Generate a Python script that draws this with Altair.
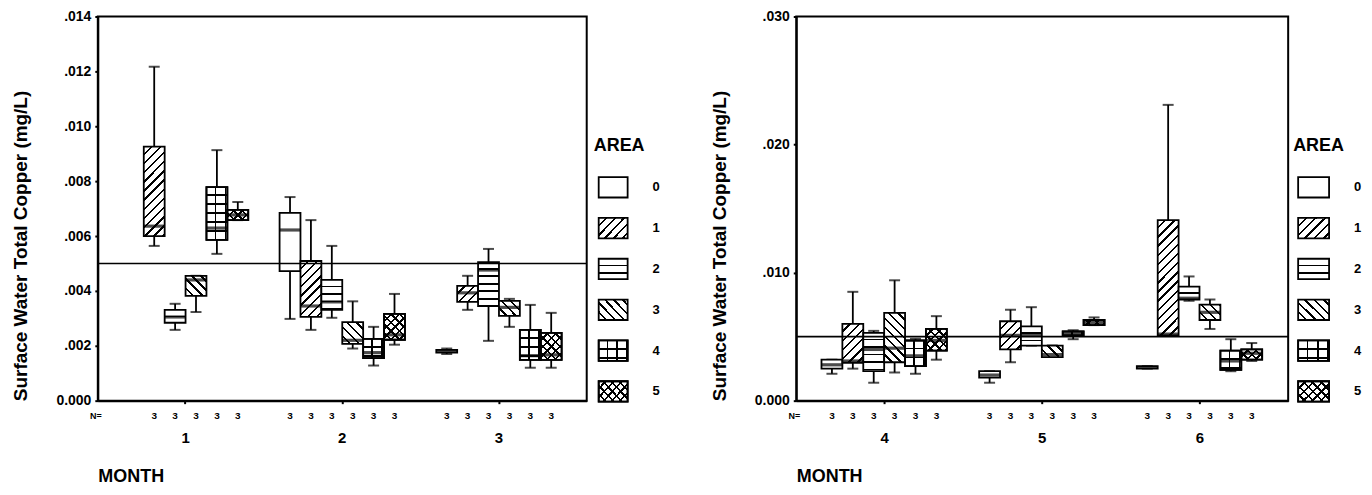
import math
import altair as alt
import pandas as pd

# ---------------- data ----------------
MONTH = [1, 1, 1, 1, 1,
         2, 2, 2, 2, 2, 2,
         3, 3, 3, 3, 3, 3,
         4, 4, 4, 4, 4, 4,
         5, 5, 5, 5, 5, 5,
         6, 6, 6, 6, 6, 6]
AREA = [1, 2, 3, 4, 5,
        0, 1, 2, 3, 4, 5,
        0, 1, 2, 3, 4, 5,
        0, 1, 2, 3, 4, 5,
        0, 1, 2, 3, 4, 5,
        0, 1, 2, 3, 4, 5]
LOW = [0.00564, 0.00258, 0.00323, 0.00535, 0.00658,
       0.00298, 0.00258, 0.00302, 0.00190, 0.00128, 0.00204,
       0.00170, 0.00331, 0.00218, 0.00269, 0.00120, 0.00120,
       0.0021, 0.0025, 0.0014, 0.0022, 0.0021, 0.0032,
       0.0014, 0.0030, 0.0043, 0.0034, 0.0048, 0.0059,
       0.0025, 0.0051, 0.0078, 0.0056, 0.0023, 0.0031]
Q1 = [0.00600, 0.00284, 0.00382, 0.00586, 0.00658,
      0.00472, 0.00305, 0.00331, 0.00207, 0.00155, 0.00222,
      0.00175, 0.00360, 0.00345, 0.00309, 0.00149, 0.00149,
      0.0025, 0.00296, 0.0023, 0.0030, 0.0027, 0.0039,
      0.0018, 0.0040, 0.0043, 0.0034, 0.0051, 0.0059,
      0.0025, 0.0051, 0.0079, 0.0063, 0.0024, 0.0032]
MEDIAN = [0.00636, 0.00305, 0.00440, 0.00629, 0.00677,
          0.00622, 0.00345, 0.00360, 0.00220, 0.00175, 0.00240,
          0.00180, 0.00393, 0.00476, 0.00340, 0.00164, 0.00167,
          0.0028, 0.0031, 0.0040, 0.0041, 0.0035, 0.0047,
          0.0020, 0.0051, 0.0051, 0.0036, 0.0052, 0.0061,
          0.0026, 0.0052, 0.0080, 0.0069, 0.0031, 0.0037]
Q3 = [0.00926, 0.00331, 0.00455, 0.00778, 0.00695,
      0.00684, 0.00509, 0.00440, 0.00286, 0.00225, 0.00316,
      0.00185, 0.00418, 0.00505, 0.00364, 0.00258, 0.00247,
      0.0032, 0.0060, 0.0053, 0.00686, 0.0047, 0.0056,
      0.0023, 0.0062, 0.0058, 0.0043, 0.0054, 0.0063,
      0.0027, 0.0141, 0.0089, 0.0075, 0.0039, 0.0040]
HIGH = [0.01217, 0.00353, 0.00455, 0.00913, 0.00724,
        0.00742, 0.00658, 0.00564, 0.00362, 0.00269, 0.00389,
        0.00190, 0.00455, 0.00553, 0.00371, 0.00349, 0.00320,
        0.0032, 0.0085, 0.00545, 0.0094, 0.00483, 0.0066,
        0.0023, 0.0071, 0.0073, 0.0043, 0.0055, 0.0065,
        0.0027, 0.0231, 0.0097, 0.0079, 0.0048, 0.0045]
N = [3, 3, 3, 3, 3,
     3, 3, 3, 3, 3, 3,
     3, 3, 3, 3, 3, 3,
     3, 3, 3, 3, 3, 3,
     3, 3, 3, 3, 3, 3,
     3, 3, 3, 3, 3, 3]
AREA_LEVELS = [0, 1, 2, 3, 4, 5]
LEFT_MONTHS = [1, 2, 3]
RIGHT_MONTHS = [4, 5, 6]
LEFT_TICKS = [0.0, 0.002, 0.004, 0.006, 0.008, 0.010, 0.012, 0.014]
RIGHT_TICKS = [0.0, 0.010, 0.020, 0.030]
THRESHOLD = [0.005]
Y_TITLE = "Surface Water Total Copper (mg/L)"

df = pd.DataFrame({"MONTH": MONTH, "AREA": AREA, "low": LOW, "q1": Q1,
                   "median": MEDIAN, "q3": Q3, "high": HIGH, "N": N})

# ---------------- styling helpers (hatch patterns as hard-stop gradients) ----------------
FONT = "Liberation Sans"
PH = 385          # plot height
NS = 18           # stripes available in a gradient
LINE = 1.7        # hatch line thickness (px)
CLEAR = "rgba(255,255,255,0)"


def stops_js(bg, period):
    fr = LINE / period
    out = []
    for k in range(NS):
        a, b, c = k / NS, (k + 1 - fr) / NS, (k + 1) / NS
        out += [f"{{offset:{a:.5f},color:'{bg}'}}", f"{{offset:{b:.5f},color:'{bg}'}}",
                f"{{offset:{b:.5f},color:'black'}}", f"{{offset:{c:.5f},color:'black'}}"]
    return "[" + ",".join(out) + "]"


def grad(kind, W, H, period, bg="white"):
    st = stops_js(bg, period)
    den = f"({W}*{W}+{H}*{H})"
    C = math.sqrt(2) * period * NS
    if kind == "fwd":
        return (f"{{gradient:'linear',x1:0,y1:0,x2:{C:.4f}*{W}/{den},"
                f"y2:{C:.4f}*{H}/{den},stops:{st}}}")
    if kind == "back":
        return (f"{{gradient:'linear',x1:0,y1:1,x2:{C:.4f}*{W}/{den},"
                f"y2:1-{C:.4f}*{H}/{den},stops:{st}}}")
    if kind == "horiz":
        return f"{{gradient:'linear',x1:0.5,y1:0,x2:0.5,y2:{period * NS}/{H},stops:{st}}}"
    return f"{{gradient:'linear',x1:0,y1:0,x2:{period * NS}/{W},y2:0,stops:{st}}}"


def fill_exprs(W, H):
    g1 = (f"datum.AREA == 1 ? {grad('fwd', W, H, 6.5)} : "
          f"datum.AREA == 2 ? {grad('horiz', W, H, 7.5)} : "
          f"datum.AREA == 3 ? {grad('back', W, H, 6.5)} : "
          f"datum.AREA == 4 ? {grad('horiz', W, H, 9)} : "
          f"datum.AREA == 5 ? {grad('fwd', W, H, 6)} : 'white'")
    g2 = (f"datum.AREA == 4 ? {grad('vert', W, H, 10, CLEAR)} : "
          f"datum.AREA == 5 ? {grad('back', W, H, 6, CLEAR)} : '{CLEAR}'")
    return g1, g2


def panel(months, ymax, ticks, width):
    d = df[df["MONTH"].isin(months)]
    g1, g2 = fill_exprs("21", "datum.hpx")
    base = alt.Chart(d).transform_calculate(
        hpx=f"max(1, (datum.q3 - datum.q1) * {PH / ymax})"
    ).transform_calculate(g1=g1, g2=g2)

    x = alt.X("MONTH:O",
              scale=alt.Scale(type="band", paddingInner=0.2, paddingOuter=0.16),
              axis=alt.Axis(title="MONTH", titleAnchor="start", titleAlign="left",
                            labelAngle=0, labelPadding=27, tickSize=3, titlePadding=22,
                            labelFontSize=15, titleFontSize=18, domainWidth=2, tickWidth=2))
    xo = alt.XOffset("AREA:O", scale=alt.Scale(domain=AREA_LEVELS, paddingInner=0, paddingOuter=0))
    ysc = alt.Scale(domain=[0, ymax], nice=False, zero=True)
    yax = alt.Axis(values=ticks, title=Y_TITLE, titleAnchor="start", titleAlign="left",
                   labelExpr="datum.value == 0 ? '0.000' : replace(format(datum.value, '.3f'), '0.', '.')",
                   labelFontSize=14, titleFontSize=19, titlePadding=25, tickSize=3,
                   labelPadding=4, grid=False, domainWidth=2, tickWidth=2)

    whisk = base.mark_rule(color="black", strokeWidth=1.8).encode(
        x=x, xOffset=xo, y=alt.Y("low:Q", scale=ysc, axis=yax), y2="high:Q")
    cap_hi = base.mark_tick(color="black", size=11, thickness=2).encode(
        x=x, xOffset=xo, y=alt.Y("high:Q"))
    cap_lo = base.mark_tick(color="black", size=11, thickness=2).encode(
        x=x, xOffset=xo, y=alt.Y("low:Q"))
    box = base.mark_bar(stroke="black", strokeWidth=1.8).encode(
        x=x, xOffset=xo, y="q1:Q", y2="q3:Q", fill=alt.Fill("g1:N", scale=None))
    over = base.transform_filter("datum.AREA >= 4").mark_bar(stroke="black", strokeWidth=1.8).encode(
        x=x, xOffset=xo, y="q1:Q", y2="q3:Q", fill=alt.Fill("g2:N", scale=None))
    med = base.mark_tick(color="black", size=21, thickness=3.2).encode(
        x=x, xOffset=xo, y="median:Q")
    thr = alt.Chart(pd.DataFrame({"v": THRESHOLD})).mark_rule(color="black", strokeWidth=1.6).encode(
        y="v:Q")
    nlab = base.mark_text(dy=15, fontSize=10, fontWeight="bold", font=FONT).encode(
        x=x, xOffset=xo, y=alt.datum(0), text="N:Q")
    neq = alt.Chart(pd.DataFrame({"t": ["N="]})).mark_text(
        dy=15, fontSize=9, fontWeight="bold", font=FONT).encode(
        x=alt.value(-2), y=alt.datum(0), text="t:N")
    return alt.layer(whisk, cap_hi, cap_lo, box, over, med, thr, nlab, neq).properties(
        width=width, height=PH, view=alt.ViewBackground(stroke="black", strokeWidth=2))


def legend(width, sx, sx2, tx, ax):
    ld = pd.DataFrame({"AREA": AREA_LEVELS, "label": [str(a) for a in AREA_LEVELS]})
    g1, g2 = fill_exprs("30", "20")
    base = alt.Chart(ld).transform_calculate(g1=g1, g2=g2)
    ysc = alt.Scale(type="band", domain=["AREA"] + [str(a) for a in AREA_LEVELS],
                    range=[120, 386], paddingInner=0.5, paddingOuter=0)
    y = alt.Y("label:N", scale=ysc, axis=None)
    sw = base.mark_rect(stroke="black", strokeWidth=1.8).encode(
        x=alt.value(sx), x2=alt.value(sx2), y=y, fill=alt.Fill("g1:N", scale=None))
    sw2 = base.transform_filter("datum.AREA >= 4").mark_rect(stroke="black", strokeWidth=1.8).encode(
        x=alt.value(sx), x2=alt.value(sx2), y=y, fill=alt.Fill("g2:N", scale=None))
    lab = base.mark_text(align="left", fontSize=13, fontWeight="bold", font=FONT).encode(
        x=alt.value(tx), y=y, text="label:N")
    ttl = alt.Chart(pd.DataFrame({"label": ["AREA"]})).mark_text(
        align="left", fontSize=18, fontWeight="bold", font=FONT).encode(
        x=alt.value(ax), y=y, text="label:N")
    return alt.layer(sw, sw2, lab, ttl).properties(
        width=width, height=PH, view=alt.ViewBackground(strokeWidth=0))


left = panel(LEFT_MONTHS, 0.014, LEFT_TICKS, 490)
right = panel(RIGHT_MONTHS, 0.030, RIGHT_TICKS, 493)
leg1 = legend(210, 12, 41, 66, 7)
leg2 = legend(76, 10, 41, 66, 5)

chart = alt.hconcat(left, leg1, right, leg2, spacing=0, bounds="flush").configure(
    padding={"left": 2, "top": 0, "right": 0, "bottom": 0}
).configure_view(strokeWidth=0).configure_axis(
    labelFont=FONT, titleFont=FONT, labelFontWeight="bold", titleFontWeight="bold",
    labelColor="black", titleColor="black", domainColor="black", tickColor="black"
)

chart.save("out.html", embed_options={"renderer": "svg", "actions": False})
